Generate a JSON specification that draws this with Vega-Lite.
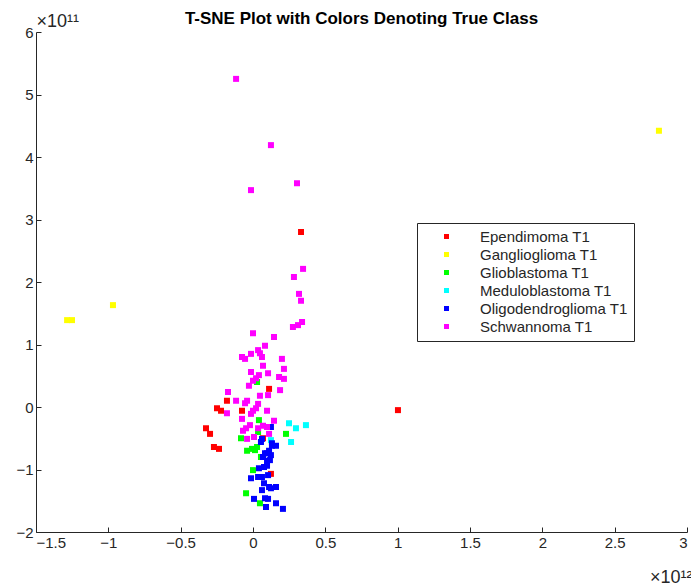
{
  "$schema": "https://vega.github.io/schema/vega-lite/v6.json",
  "width": 651,
  "height": 500,
  "autosize": {"type": "none"},
  "padding": {"left": 36, "top": 32, "right": 4, "bottom": 54},
  "background": "white",
  "config": {
    "view": {"stroke": null},
    "font": "Liberation Sans",
    "axis": {"domainColor": "#262626", "tickColor": "#262626", "labelColor": "#262626", "labelFont": "Liberation Sans", "labelFontSize": 15, "grid": false, "tickSize": -5, "domainWidth": 1, "tickWidth": 1}
  },
  "title": {"text": "T-SNE Plot with Colors Denoting True Class", "fontSize": 17, "fontWeight": "bold", "color": "black", "font": "Liberation Sans", "anchor": "middle", "offset": -16},
  "data": {"values": [
    {"x": 0.332, "y": 2.80, "cls": "Ependimoma T1"},
    {"x": 1.002, "y": -0.05, "cls": "Ependimoma T1"},
    {"x": 0.111, "y": 0.29, "cls": "Ependimoma T1"},
    {"x": -0.180, "y": 0.10, "cls": "Ependimoma T1"},
    {"x": -0.249, "y": -0.02, "cls": "Ependimoma T1"},
    {"x": -0.221, "y": -0.06, "cls": "Ependimoma T1"},
    {"x": -0.076, "y": -0.06, "cls": "Ependimoma T1"},
    {"x": -0.325, "y": -0.34, "cls": "Ependimoma T1"},
    {"x": -0.297, "y": -0.43, "cls": "Ependimoma T1"},
    {"x": 0.069, "y": -0.50, "cls": "Ependimoma T1"},
    {"x": -0.270, "y": -0.64, "cls": "Ependimoma T1"},
    {"x": -0.235, "y": -0.67, "cls": "Ependimoma T1"},
    {"x": 0.124, "y": -1.07, "cls": "Ependimoma T1"},
    {"x": 2.806, "y": 4.42, "cls": "Ganglioglioma T1"},
    {"x": -0.968, "y": 1.63, "cls": "Ganglioglioma T1"},
    {"x": -1.285, "y": 1.39, "cls": "Ganglioglioma T1"},
    {"x": -1.251, "y": 1.39, "cls": "Ganglioglioma T1"},
    {"x": 0.028, "y": 0.40, "cls": "Glioblastoma T1"},
    {"x": 0.041, "y": -0.21, "cls": "Glioblastoma T1"},
    {"x": 0.035, "y": -0.40, "cls": "Glioblastoma T1"},
    {"x": 0.228, "y": -0.43, "cls": "Glioblastoma T1"},
    {"x": -0.083, "y": -0.50, "cls": "Glioblastoma T1"},
    {"x": 0.028, "y": -0.64, "cls": "Glioblastoma T1"},
    {"x": -0.007, "y": -0.67, "cls": "Glioblastoma T1"},
    {"x": -0.041, "y": -0.70, "cls": "Glioblastoma T1"},
    {"x": 0.014, "y": -0.69, "cls": "Glioblastoma T1"},
    {"x": 0.055, "y": -0.80, "cls": "Glioblastoma T1"},
    {"x": 0.0, "y": -1.01, "cls": "Glioblastoma T1"},
    {"x": -0.048, "y": -1.38, "cls": "Glioblastoma T1"},
    {"x": 0.048, "y": -1.54, "cls": "Glioblastoma T1"},
    {"x": 0.249, "y": -0.26, "cls": "Meduloblastoma T1"},
    {"x": 0.297, "y": -0.34, "cls": "Meduloblastoma T1"},
    {"x": 0.366, "y": -0.29, "cls": "Meduloblastoma T1"},
    {"x": 0.124, "y": -0.53, "cls": "Meduloblastoma T1"},
    {"x": 0.263, "y": -0.56, "cls": "Meduloblastoma T1"},
    {"x": 0.124, "y": -0.32, "cls": "Oligodendroglioma T1"},
    {"x": 0.062, "y": -0.51, "cls": "Oligodendroglioma T1"},
    {"x": 0.055, "y": -0.56, "cls": "Oligodendroglioma T1"},
    {"x": 0.131, "y": -0.62, "cls": "Oligodendroglioma T1"},
    {"x": 0.159, "y": -0.62, "cls": "Oligodendroglioma T1"},
    {"x": 0.111, "y": -0.70, "cls": "Oligodendroglioma T1"},
    {"x": 0.083, "y": -0.74, "cls": "Oligodendroglioma T1"},
    {"x": 0.124, "y": -0.77, "cls": "Oligodendroglioma T1"},
    {"x": 0.069, "y": -0.80, "cls": "Oligodendroglioma T1"},
    {"x": 0.117, "y": -0.85, "cls": "Oligodendroglioma T1"},
    {"x": 0.097, "y": -0.86, "cls": "Oligodendroglioma T1"},
    {"x": 0.076, "y": -0.96, "cls": "Oligodendroglioma T1"},
    {"x": 0.097, "y": -0.94, "cls": "Oligodendroglioma T1"},
    {"x": 0.041, "y": -0.98, "cls": "Oligodendroglioma T1"},
    {"x": -0.014, "y": -1.14, "cls": "Oligodendroglioma T1"},
    {"x": 0.035, "y": -1.12, "cls": "Oligodendroglioma T1"},
    {"x": 0.062, "y": -1.12, "cls": "Oligodendroglioma T1"},
    {"x": 0.104, "y": -1.09, "cls": "Oligodendroglioma T1"},
    {"x": 0.076, "y": -1.22, "cls": "Oligodendroglioma T1"},
    {"x": 0.111, "y": -1.28, "cls": "Oligodendroglioma T1"},
    {"x": 0.124, "y": -1.30, "cls": "Oligodendroglioma T1"},
    {"x": 0.159, "y": -1.28, "cls": "Oligodendroglioma T1"},
    {"x": 0.062, "y": -1.33, "cls": "Oligodendroglioma T1"},
    {"x": 0.007, "y": -1.47, "cls": "Oligodendroglioma T1"},
    {"x": 0.083, "y": -1.46, "cls": "Oligodendroglioma T1"},
    {"x": 0.104, "y": -1.47, "cls": "Oligodendroglioma T1"},
    {"x": 0.159, "y": -1.54, "cls": "Oligodendroglioma T1"},
    {"x": 0.090, "y": -1.60, "cls": "Oligodendroglioma T1"},
    {"x": 0.207, "y": -1.63, "cls": "Oligodendroglioma T1"},
    {"x": 0.131, "y": -0.58, "cls": "Oligodendroglioma T1"},
    {"x": 0.097, "y": -0.74, "cls": "Oligodendroglioma T1"},
    {"x": -0.117, "y": 5.25, "cls": "Schwannoma T1"},
    {"x": 0.124, "y": 4.19, "cls": "Schwannoma T1"},
    {"x": -0.014, "y": 3.47, "cls": "Schwannoma T1"},
    {"x": 0.304, "y": 3.58, "cls": "Schwannoma T1"},
    {"x": 0.346, "y": 2.21, "cls": "Schwannoma T1"},
    {"x": 0.283, "y": 2.08, "cls": "Schwannoma T1"},
    {"x": 0.318, "y": 1.81, "cls": "Schwannoma T1"},
    {"x": 0.332, "y": 1.70, "cls": "Schwannoma T1"},
    {"x": 0.339, "y": 1.36, "cls": "Schwannoma T1"},
    {"x": 0.311, "y": 1.31, "cls": "Schwannoma T1"},
    {"x": 0.276, "y": 1.28, "cls": "Schwannoma T1"},
    {"x": 0.0, "y": 1.18, "cls": "Schwannoma T1"},
    {"x": 0.145, "y": 1.12, "cls": "Schwannoma T1"},
    {"x": 0.083, "y": 0.98, "cls": "Schwannoma T1"},
    {"x": 0.035, "y": 0.91, "cls": "Schwannoma T1"},
    {"x": 0.048, "y": 0.86, "cls": "Schwannoma T1"},
    {"x": -0.014, "y": 0.85, "cls": "Schwannoma T1"},
    {"x": -0.076, "y": 0.80, "cls": "Schwannoma T1"},
    {"x": -0.055, "y": 0.77, "cls": "Schwannoma T1"},
    {"x": 0.062, "y": 0.80, "cls": "Schwannoma T1"},
    {"x": 0.200, "y": 0.77, "cls": "Schwannoma T1"},
    {"x": 0.069, "y": 0.66, "cls": "Schwannoma T1"},
    {"x": 0.214, "y": 0.61, "cls": "Schwannoma T1"},
    {"x": -0.014, "y": 0.56, "cls": "Schwannoma T1"},
    {"x": 0.041, "y": 0.51, "cls": "Schwannoma T1"},
    {"x": 0.104, "y": 0.54, "cls": "Schwannoma T1"},
    {"x": 0.021, "y": 0.46, "cls": "Schwannoma T1"},
    {"x": 0.0, "y": 0.42, "cls": "Schwannoma T1"},
    {"x": 0.180, "y": 0.48, "cls": "Schwannoma T1"},
    {"x": 0.214, "y": 0.45, "cls": "Schwannoma T1"},
    {"x": -0.028, "y": 0.34, "cls": "Schwannoma T1"},
    {"x": 0.187, "y": 0.27, "cls": "Schwannoma T1"},
    {"x": -0.173, "y": 0.24, "cls": "Schwannoma T1"},
    {"x": 0.048, "y": 0.18, "cls": "Schwannoma T1"},
    {"x": 0.104, "y": 0.19, "cls": "Schwannoma T1"},
    {"x": -0.117, "y": 0.10, "cls": "Schwannoma T1"},
    {"x": -0.041, "y": 0.10, "cls": "Schwannoma T1"},
    {"x": -0.055, "y": 0.06, "cls": "Schwannoma T1"},
    {"x": 0.035, "y": 0.05, "cls": "Schwannoma T1"},
    {"x": 0.021, "y": -0.02, "cls": "Schwannoma T1"},
    {"x": -0.180, "y": -0.10, "cls": "Schwannoma T1"},
    {"x": 0.0, "y": -0.06, "cls": "Schwannoma T1"},
    {"x": 0.097, "y": -0.06, "cls": "Schwannoma T1"},
    {"x": -0.014, "y": -0.11, "cls": "Schwannoma T1"},
    {"x": -0.076, "y": -0.19, "cls": "Schwannoma T1"},
    {"x": 0.145, "y": -0.22, "cls": "Schwannoma T1"},
    {"x": -0.021, "y": -0.29, "cls": "Schwannoma T1"},
    {"x": -0.048, "y": -0.34, "cls": "Schwannoma T1"},
    {"x": -0.069, "y": -0.38, "cls": "Schwannoma T1"},
    {"x": 0.069, "y": -0.30, "cls": "Schwannoma T1"},
    {"x": 0.097, "y": -0.32, "cls": "Schwannoma T1"},
    {"x": 0.035, "y": -0.34, "cls": "Schwannoma T1"},
    {"x": 0.111, "y": -0.43, "cls": "Schwannoma T1"},
    {"x": 0.007, "y": -0.48, "cls": "Schwannoma T1"},
    {"x": -0.041, "y": -0.51, "cls": "Schwannoma T1"}
  ]},
  "mark": {"type": "point", "shape": "square", "filled": true, "size": 36, "opacity": 1},
  "encoding": {
    "x": {"field": "x", "type": "quantitative", "scale": {"domain": [-1.5, 3], "nice": false, "zero": false},
      "axis": {"values": [-1.5, -1, -0.5, 0, 0.5, 1, 1.5, 2, 2.5, 3], "format": "~g", "labelPadding": 8, "title": "×10¹²", "titleFontWeight": "normal", "titleFontSize": 18, "titleColor": "#262626", "titleAnchor": "end", "titleAlign": "right", "titleX": 656, "titleY": 50, "titleBaseline": "alphabetic"}},
    "y": {"field": "y", "type": "quantitative", "scale": {"domain": [-2, 6], "nice": false, "zero": false},
      "axis": {"values": [-2, -1, 0, 1, 2, 3, 4, 5, 6], "labelPadding": 8, "title": "×10¹¹", "titleFontWeight": "normal", "titleFontSize": 18, "titleColor": "#262626", "titleAngle": 0, "titleAlign": "left", "titleX": 0, "titleY": -6, "titleBaseline": "alphabetic"}},
    "color": {"field": "cls", "type": "nominal",
      "scale": {"domain": ["Ependimoma T1", "Ganglioglioma T1", "Glioblastoma T1", "Meduloblastoma T1", "Oligodendroglioma T1", "Schwannoma T1"], "range": ["#FF0000", "#FFFF00", "#00FF00", "#00FFFF", "#0000FF", "#FF00FF"]},
      "legend": {"orient": "none", "legendX": 381, "legendY": 191, "title": null, "symbolType": "square", "symbolSize": 25, "symbolStrokeWidth": 0, "labelFontSize": 15, "labelFont": "Liberation Sans", "labelColor": "#262626", "labelOffset": 26, "symbolOffset": 16, "padding": 6, "rowPadding": 2, "strokeColor": "#262626", "fillColor": "white", "labelLimit": 300}}
  }
}
